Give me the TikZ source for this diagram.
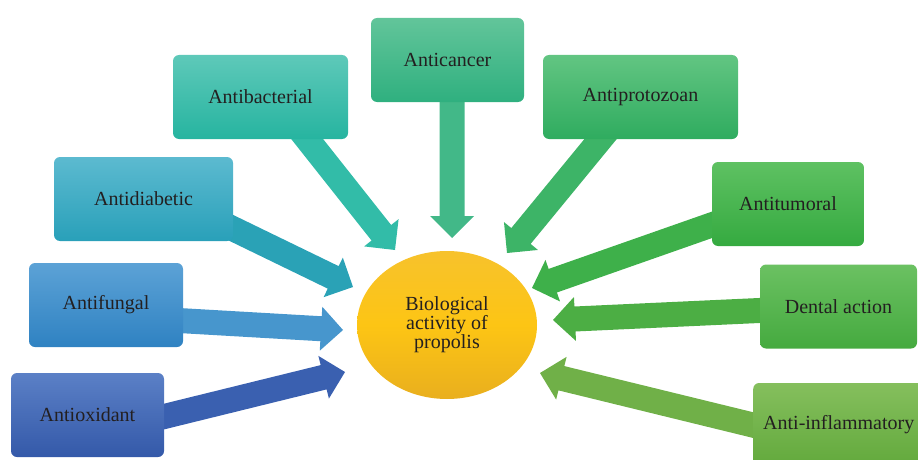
\documentclass[tikz,border=0pt]{standalone}
\usepackage{fontspec}
\setmainfont{Liberation Serif}
\usetikzlibrary{calc,shapes.geometric}
\definecolor{txt}{HTML}{231F20}
\definecolor{oxT}{HTML}{5B80C6}\definecolor{oxB}{HTML}{3459A9}\definecolor{oxA}{HTML}{3A60B0}
\definecolor{fuT}{HTML}{5CA2D6}\definecolor{fuB}{HTML}{2F82C2}\definecolor{fuA}{HTML}{4796CD}
\definecolor{diT}{HTML}{5CBAD0}\definecolor{diB}{HTML}{29A0B9}\definecolor{diA}{HTML}{2AA2B6}
\definecolor{baT}{HTML}{5EC9B9}\definecolor{baB}{HTML}{26B4A0}\definecolor{baA}{HTML}{32BCA8}
\definecolor{caT}{HTML}{62C59A}\definecolor{caB}{HTML}{2FB07F}\definecolor{caA}{HTML}{42B888}
\definecolor{prT}{HTML}{62C582}\definecolor{prB}{HTML}{2FAC5F}\definecolor{prA}{HTML}{3DB467}
\definecolor{tuT}{HTML}{5EC162}\definecolor{tuB}{HTML}{35AA40}\definecolor{tuA}{HTML}{3EB04A}
\definecolor{deT}{HTML}{6BC162}\definecolor{deB}{HTML}{45AA3F}\definecolor{deA}{HTML}{4CAE44}
\definecolor{inT}{HTML}{85BF5D}\definecolor{inB}{HTML}{62A93C}\definecolor{inA}{HTML}{70B048}
\definecolor{elT}{HTML}{F7C22C}\definecolor{elM}{HTML}{FDC514}\definecolor{elB}{HTML}{E9AF1E}
\newcommand{\blockarr}[3]{%
  \coordinate (H) at ($(#2)!22pt!(#1)$);
  \fill[#3] ($(#1)!12.5pt!90:(#2)$) -- ($(H)!12.5pt!90:(#2)$) -- ($(H)!22pt!90:(#2)$) -- (#2)
    -- ($(H)!22pt!-90:(#2)$) -- ($(H)!12.5pt!-90:(#2)$) -- ($(#1)!12.5pt!-90:(#2)$) -- cycle;
}
\begin{document}
\begin{tikzpicture}[x=1pt,y=-1pt,
  box/.style={rounded corners=6pt, minimum height=84pt, inner sep=0pt, text=txt,
    font=\fontsize{20}{22}\selectfont},
]
\useasboundingbox (0,0) rectangle (918,460);
\clip (0,0) rectangle (918,460);
% arrow tails and tips
\coordinate (oxs) at (150,420); \coordinate (oxe) at (345,372);
\coordinate (fus) at (170,320); \coordinate (fue) at (343,330);
\coordinate (dis) at (215,220); \coordinate (die) at (353,287);
\coordinate (bas) at (300,130); \coordinate (bae) at (395,250);
\coordinate (cas) at (452,95);  \coordinate (cae) at (452,238);
\coordinate (prs) at (608,130); \coordinate (pre) at (507,253);
\coordinate (tus) at (720,222); \coordinate (tue) at (532,288);
\coordinate (des) at (770,310); \coordinate (dee) at (553,320);
\coordinate (ins) at (765,428); \coordinate (ine) at (540,373);
\blockarr{oxs}{oxe}{oxA}
\blockarr{fus}{fue}{fuA}
\blockarr{dis}{die}{diA}
\blockarr{bas}{bae}{baA}
\blockarr{cas}{cae}{caA}
\blockarr{prs}{pre}{prA}
\blockarr{tus}{tue}{tuA}
\blockarr{des}{dee}{deA}
\blockarr{ins}{ine}{inA}
% boxes
\node[box, minimum width=153pt, top color=oxT, bottom color=oxB] (ox) at (87.5,415) {Antioxidant};
\node[box, minimum width=154pt, top color=fuT, bottom color=fuB] (fu) at (106,305) {Antifungal};
\node[box, minimum width=179pt, top color=diT, bottom color=diB] (di) at (143.5,199) {Antidiabetic};
\node[box, minimum width=175pt, top color=baT, bottom color=baB] (ba) at (260.5,97) {Antibacterial};
\node[box, minimum width=153pt, top color=caT, bottom color=caB] (ca) at (447.5,60) {Anticancer};
\node[box, minimum width=195pt, top color=prT, bottom color=prB] (pr) at (640.5,97) {Antiprotozoan};
\node[box, minimum width=152pt, top color=tuT, bottom color=tuB] (tu) at (788,204) {Antitumoral};
\node[box, minimum width=157pt, top color=deT, bottom color=deB] (de) at (838.5,306.5) {Dental action};
\node[box, minimum width=190pt, text width=175pt, align=left, inner xsep=10pt,
  top color=inT, bottom color=inB, anchor=west] (in) at (753,425) {Anti-inflammatory};
% centre
\node[ellipse, minimum width=180pt, minimum height=148pt, inner sep=0pt,
  top color=elT, bottom color=elB, middle color=elM,
  text=txt, align=center, font=\fontsize{20}{19}\selectfont] (bio) at (447,325)
  {Biological\\activity of\\propolis};
\end{tikzpicture}
\end{document}
